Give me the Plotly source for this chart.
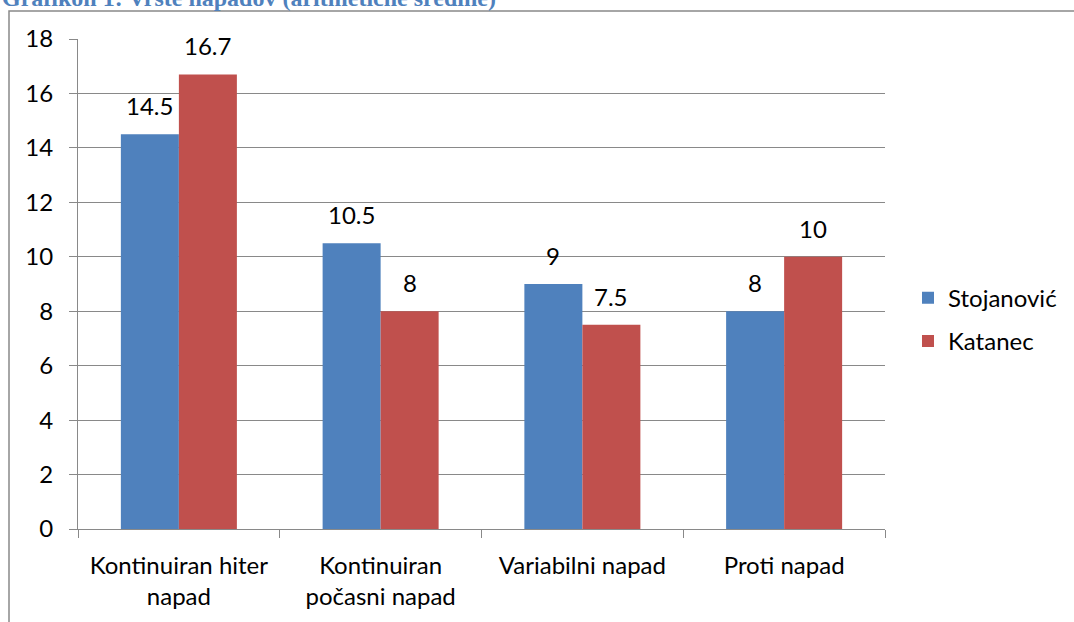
import plotly.graph_objects as go

categories = ["Kontinuiran hiter<br>napad", "Kontinuiran<br>počasni napad", "Variabilni napad", "Proti napad"]
stojanovic = [14.5, 10.5, 9, 8]
katanec = [16.7, 8, 7.5, 10]
series_names = ["Stojanović", "Katanec"]
title_text = "Grafikon 1: Vrste napadov (aritmetične sredine)"

BLUE = "#4F81BD"
RED = "#C0504D"
GRID = "#898989"
FONT = "Lato, Carlito, Calibri, sans-serif"

fig = go.Figure()
fig.add_trace(go.Bar(x=categories, y=stojanovic, name=series_names[0], marker_color=BLUE,
                     marker_line_width=0, legendgroup="a"))
fig.add_trace(go.Bar(x=categories, y=katanec, name=series_names[1], marker_color=RED,
                     marker_line_width=0, legendgroup="b"))

annotations = []
for vals, shift in ((stojanovic, -29), (katanec, 29)):
    for c, v in zip(categories, vals):
        annotations.append(dict(x=c, y=v, xref="x", yref="y", text=f"{v:g}", showarrow=False,
                                xshift=shift, yshift=12, yanchor="bottom",
                                font=dict(family=FONT, size=24, color="#000000")))

annotations.append(dict(x=-0.0967, y=1.053, xref="paper", yref="paper", xanchor="left", yanchor="bottom",
                        text="<b>" + title_text + "</b>", showarrow=False,
                        font=dict(family="Liberation Serif, Times New Roman, serif", size=24, color=BLUE)))

fig.update_layout(
    width=1074, height=622,
    margin=dict(l=78, r=189, t=39, b=92.5),
    paper_bgcolor="white", plot_bgcolor="white",
    barmode="group", bargap=0.425, bargroupgap=0,
    font=dict(family=FONT, size=24, color="#000000"),
    legend=dict(x=1.0285, y=0.427, xanchor="left", yanchor="middle",
                traceorder="grouped", tracegroupgap=9,
                font=dict(family=FONT, size=24, color="#000000")),
    annotations=annotations,
    shapes=[dict(type="rect", xref="paper", yref="paper", x0=-0.0855, x1=1.4, y0=-0.4, y1=1.057,
                 line=dict(color=GRID, width=1.5), fillcolor="rgba(0,0,0,0)", layer="below")],
)
fig.update_xaxes(showline=True, linecolor=GRID, linewidth=1, ticks="outside", tickson="boundaries",
                 ticklen=8, tickcolor=GRID, tickwidth=1, showgrid=False, automargin=False,
                 tickfont=dict(family=FONT, size=24), ticklabelstandoff=15)
fig.update_yaxes(range=[0, 18], dtick=2, showline=True, linecolor=GRID, linewidth=1,
                 ticks="outside", ticklen=8, tickcolor=GRID, tickwidth=1, automargin=False,
                 showgrid=True, gridcolor=GRID, gridwidth=1, zeroline=False,
                 tickfont=dict(family=FONT, size=24), ticklabelstandoff=11)

fig.write_html("out.html", config={"displayModeBar": False},
               post_script="document.body.style.margin='0';document.body.style.padding='0';")
